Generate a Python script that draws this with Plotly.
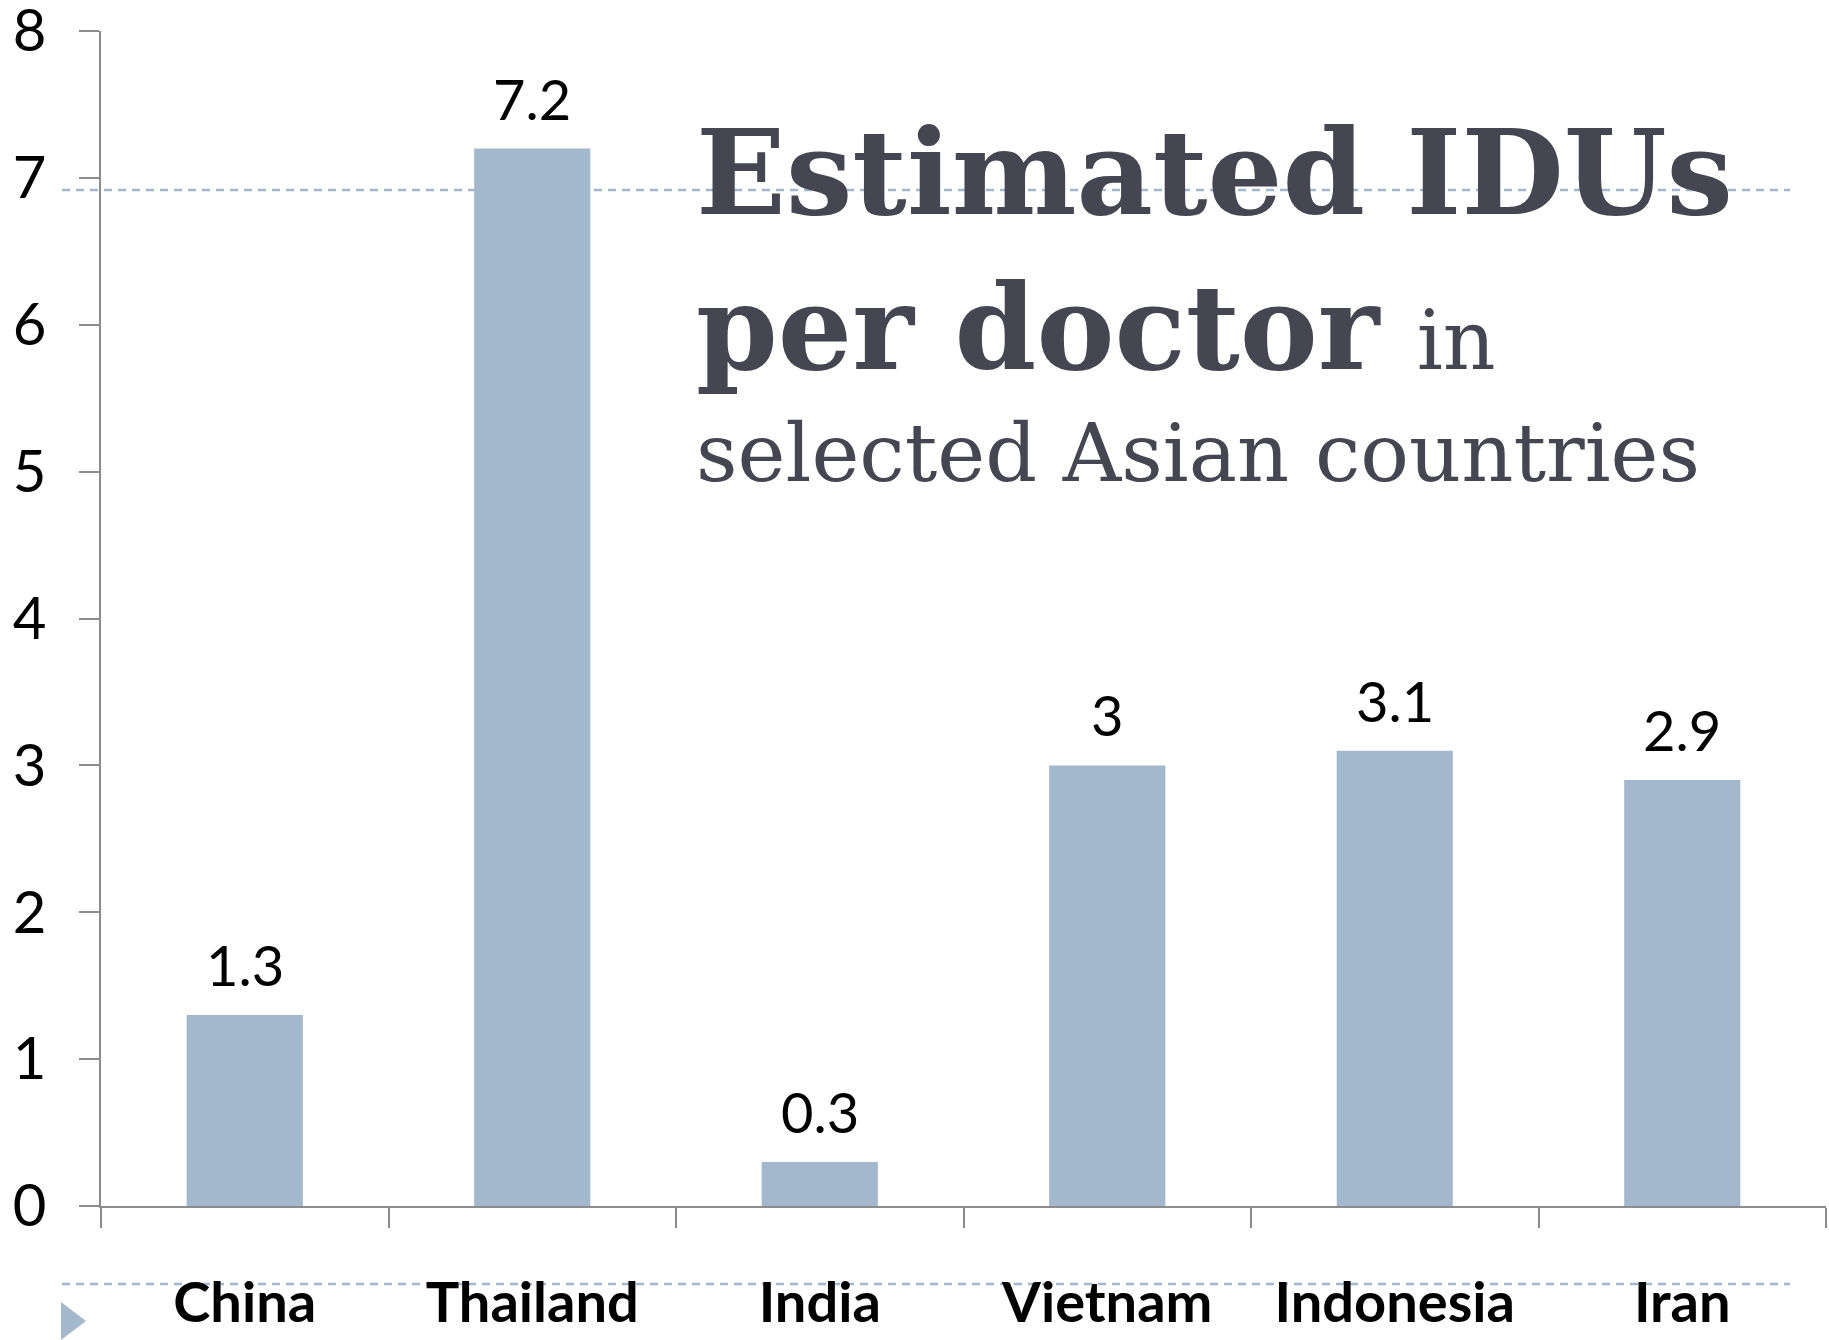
import plotly.graph_objects as go

countries = ["China", "Thailand", "India", "Vietnam", "Indonesia", "Iran"]
idus_per_doctor = [1.3, 7.2, 0.3, 3, 3.1, 2.9]
value_labels = ["1.3", "7.2", "0.3", "3", "3.1", "2.9"]
y_ticks = [0, 1, 2, 3, 4, 5, 6, 7, 8]

BAR = "#A3B7CD"
AXIS = "#8C8C8C"
TITLE = "#464652"
SANS = "Lato, 'Open Sans', sans-serif"
SERIF = "'DejaVu Serif', serif"

fig = go.Figure()
fig.add_trace(go.Bar(x=countries, y=idus_per_doctor, marker=dict(color=BAR, line=dict(width=0)),
                     hoverinfo="skip"))

for c, v, t in zip(countries, idus_per_doctor, value_labels):
    fig.add_annotation(x=c, y=v, text=t, showarrow=False, yanchor="bottom", yshift=15,
                       font=dict(family=SANS, size=56, color="#000000"))

# Title block
fig.add_annotation(xref="paper", yref="paper", x=0.3438, y=(1206 - 172) / 1175, xanchor="left",
                   yanchor="middle", showarrow=False,
                   text="<b>Estimated IDUs</b>", font=dict(family=SERIF, size=118, color=TITLE))
fig.add_annotation(xref="paper", yref="paper", x=0.3438, y=(1206 - 328) / 1175, xanchor="left",
                   yanchor="middle", showarrow=False,
                   text="<b>per doctor</b> <span style='font-size:82px'>in</span>",
                   font=dict(family=SERIF, size=117, color=TITLE))
fig.add_annotation(xref="paper", yref="paper", x=0.3438, y=(1206 - 453) / 1175, xanchor="left",
                   yanchor="middle", showarrow=False,
                   text="selected Asian countries", font=dict(family=SERIF, size=81, color=TITLE))

# Decorative slide lines and triangle
for ypx in (190, 1284):
    fig.add_shape(type="line", xref="paper", yref="paper", layer="below",
                  x0=(62 - 101) / 1725, x1=(1790 - 101) / 1725,
                  y0=(1206 - ypx) / 1175, y1=(1206 - ypx) / 1175,
                  line=dict(color=BAR, width=2.5, dash="8px,6px"))
x0p, x1p = (61 - 101) / 1725, (86 - 101) / 1725
y0p, ymp, y1p = (1206 - 1302) / 1175, (1206 - 1321) / 1175, (1206 - 1340) / 1175
fig.add_shape(type="path", xref="paper", yref="paper", layer="above",
              path=f"M {x0p},{y0p} L {x1p},{ymp} L {x0p},{y1p} Z",
              fillcolor=BAR, line=dict(width=0))

fig.update_layout(
    width=1829, height=1340,
    margin=dict(l=101, r=3, t=31, b=134),
    paper_bgcolor="white", plot_bgcolor="white",
    showlegend=False, bargap=0.596,
    xaxis=dict(showline=True, linecolor=AXIS, linewidth=2, ticks="outside", ticklen=20,
               tickwidth=2, tickcolor=AXIS, tickson="boundaries", showgrid=False,
               automargin=False, ticklabeloverflow="allow",
               tickfont=dict(family=SANS, size=56, color="#000000", weight="bold"),
               ticklabelstandoff=47),
    yaxis=dict(range=[0, 8], tickvals=y_ticks, showline=True, linecolor=AXIS, linewidth=2,
               ticks="outside", ticklen=20, tickwidth=2, tickcolor=AXIS, showgrid=False,
               automargin=False, ticklabeloverflow="allow",
               zeroline=False, tickfont=dict(family=SANS, size=58, color="#000000"),
               ticklabelstandoff=21),
)

fig.write_html("out.html", config={"displayModeBar": False},
               post_script="document.body.style.margin='0px';")
